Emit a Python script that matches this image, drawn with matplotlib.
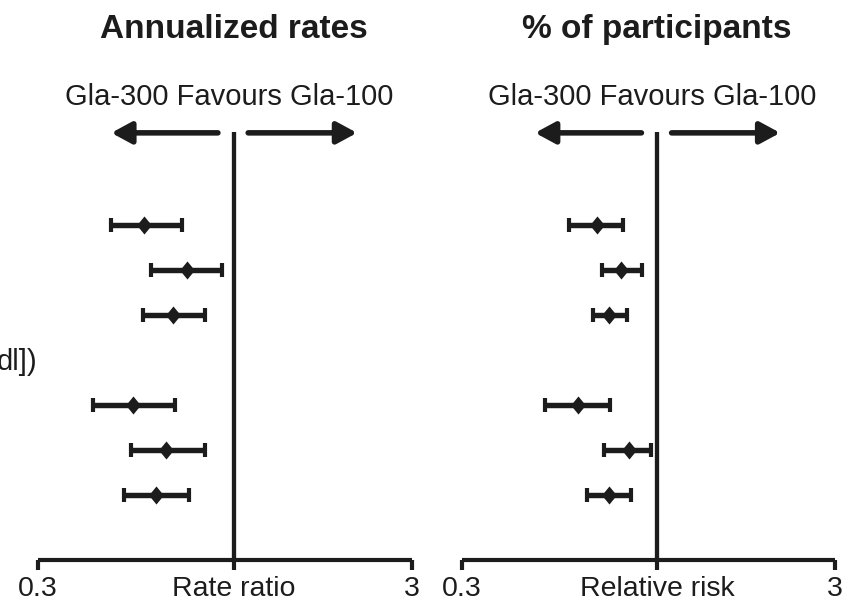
import matplotlib
matplotlib.use('Agg')
import matplotlib.pyplot as plt
import numpy as np

plt.rcParams['font.family'] = ['Liberation Sans', 'DejaVu Sans']

# ===============================================
# data
# ===============================================
rows = [0, 1, 2, 4, 5, 6]

# annualized rates: rate ratio with 95% CI
rate_ratio = [0.575, 0.750, 0.689, 0.538, 0.659, 0.621]
rate_lo = [0.470, 0.601, 0.573, 0.421, 0.532, 0.509]
rate_hi = [0.728, 0.931, 0.840, 0.697, 0.840, 0.760]

# % of participants: relative risk with 95% CI
rr = [0.690, 0.800, 0.743, 0.614, 0.841, 0.743]
rr_lo = [0.581, 0.711, 0.673, 0.501, 0.721, 0.649]
rr_hi = [0.811, 0.912, 0.830, 0.748, 0.964, 0.851]

titles = ['Annualized rates', '% of participants']
xlabels = ['Rate ratio', 'Relative risk']
favours = 'Gla-300 Favours Gla-100'
tick_vals = [0.3, 1, 3]

# ===============================================
# figure
# ===============================================
W, H = 854, 601
ink = '#1c1c1c'
fig = plt.figure(figsize=(W / 100, H / 100), dpi=100)

def px_axes(x0, x1, ytop, ybot):
    return fig.add_axes([x0 / W, 1 - ybot / H, (x1 - x0) / W, (ybot - ytop) / H])

# diamond, a little taller than wide
diamond = [(-0.82, 0), (0, 1), (0.82, 0), (0, -1), (-0.82, 0)]

def forest(ax, est, lo, hi, title, xlabel):
    est = np.array(est)
    lo = np.array(lo)
    hi = np.array(hi)

    ax.set_xscale('log')
    ax.set_xlim(0.3, 3)
    # rows are 45 px apart; axes run from 93 px above the first row to 335 px below it
    ax.set_ylim(335 / 45, -93 / 45)

    ax.axvline(1, color=ink, lw=3.1, zorder=1)
    ax.errorbar(est, rows, xerr=[est - lo, hi - est], fmt='none', ecolor=ink,
                elinewidth=3.9, capsize=5.0, capthick=3.0, zorder=2)
    ax.plot(est, rows, ls='none', marker=diamond, ms=13, color=ink,
            markeredgewidth=0, zorder=3)

    for side in ['top', 'left', 'right']:
        ax.spines[side].set_visible(False)
    ax.spines['bottom'].set_linewidth(3.0)
    ax.spines['bottom'].set_color(ink)
    ax.spines['bottom'].set_capstyle('butt')

    ax.set_yticks([])
    ax.xaxis.set_minor_locator(matplotlib.ticker.NullLocator())
    ax.set_xticks(tick_vals)
    ax.set_xticklabels(['0.3', xlabel, '3'])
    ax.tick_params(axis='x', direction='out', length=7.5, width=3.0, color=ink,
                   labelsize=20.5, labelcolor=ink, pad=4)

    # direction arrows
    arrow = dict(arrowstyle='-|>,head_length=1.2,head_width=0.65', lw=4.0,
                 color=ink, mutation_scale=10, shrinkA=0, shrinkB=0)
    ax.annotate('', xy=(0.196, 0.998), xytext=(0.481, 0.998),
                xycoords='axes fraction', arrowprops=arrow, annotation_clip=False)
    ax.annotate('', xy=(0.853, 0.998), xytext=(0.562, 0.998),
                xycoords='axes fraction', arrowprops=arrow, annotation_clip=False)

    ax.text(0.511, 1.082, favours, transform=ax.transAxes, ha='center',
            va='center', fontsize=21, color=ink)
    ax.text(0.523, 1.24, title, transform=ax.transAxes, ha='center',
            va='center', fontsize=24, fontweight='bold', color=ink)


ax1 = px_axes(38, 412, 132, 560)
forest(ax1, rate_ratio, rate_lo, rate_hi, titles[0], xlabels[0])

ax2 = px_axes(462, 835, 132, 560)
forest(ax2, rr, rr_lo, rr_hi, titles[1], xlabels[1])

# tail of the subgroup label on the left
fig.text(37 / W, 1 - 362 / H, 'dl])', ha='right', va='center', fontsize=21,
         color=ink)

fig.savefig('out.png', dpi=100)
